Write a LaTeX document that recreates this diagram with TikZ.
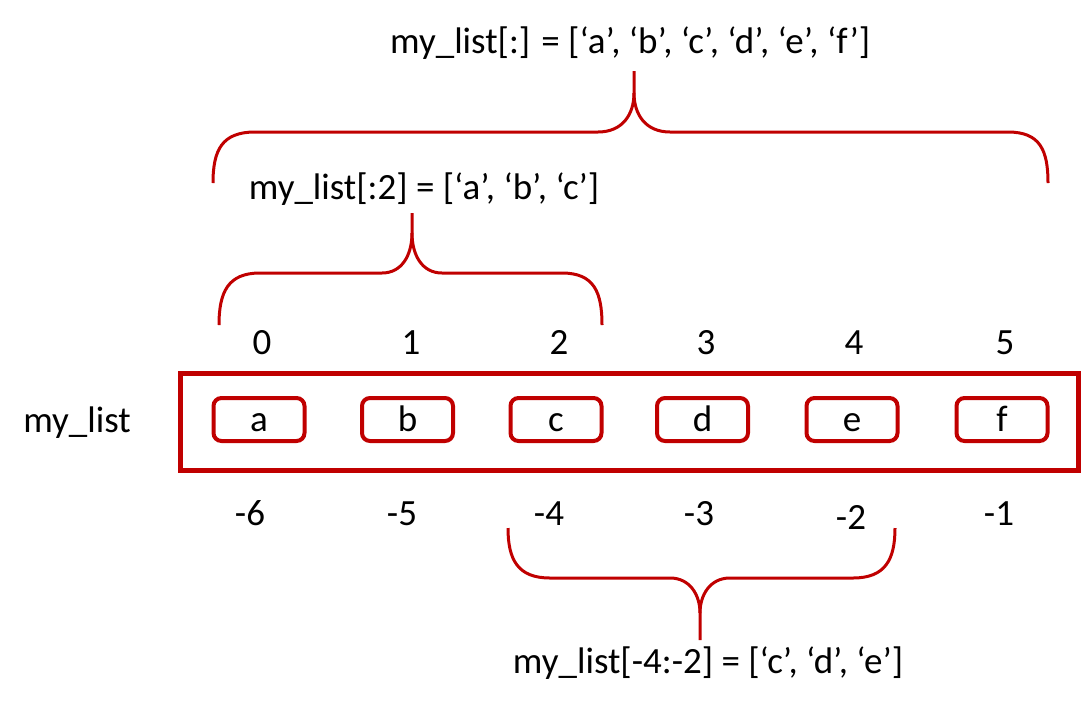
\documentclass[tikz,border=0pt]{standalone}
\usepackage{fontspec}
\setmainfont{Carlito}
\definecolor{brred}{HTML}{C00000}
\begin{document}
\begin{tikzpicture}[x=1pt,y=-1pt,
  txt/.style={inner sep=0pt, anchor=base, font=\fontsize{37}{44}\selectfont, text=black},
  cell/.style={draw=brred, line width=4pt, rounded corners=8pt, minimum width=91pt, minimum height=43pt, inner sep=0pt, text height=23pt, text depth=0pt, font=\fontsize{37}{44}\selectfont},
  listbox/.style={draw=brred, line width=5pt, minimum width=898pt, minimum height=97.5pt, inner sep=0pt},
  brace/.style={draw=brred, line width=3pt}]
\useasboundingbox (0,0) rectangle (1082,705);

% titles
\node[txt] (all) at (630,53) {my\_list[:] = [‘a’, ‘b’, ‘c’, ‘d’, ‘e’, ‘f’]};
\node[txt] (first) at (424,199) {my\_list[:2] = [‘a’, ‘b’, ‘c’]};
\node[txt] (neg) at (708,673) {my\_list[-4:-2] = [‘c’, ‘d’, ‘e’]};
\node[txt] (name) at (77,432) {my\_list};

% list box
\node[listbox] (list) at (629,421.75) {};
\foreach \l/\x in {a/259,b/407.5,c/556,d/702.5,e/852,f/1002}
  \node[cell] (c\l) at (\x,419.5) {\l};

% positive indices
\foreach \i/\x in {0/262,1/411,2/559,3/706,4/854,5/1005}
  \node[txt] (p\i) at (\x,354) {\i};
% negative indices
\foreach \i/\x/\y in {6/250/525,5/402/525,4/549/525,3/699/525,2/851/529,1/999/525}
  \node[txt] (n\i) at (\x,\y) {-\i};

% big brace
\draw[brace] (213,183) .. controls (213,150) and (222,132) .. (255,132) -- (598,132)
  .. controls (622,132) and (634,115) .. (634,93) -- (634,71);
\draw[brace] (634,93) .. controls (634,115) and (646,132) .. (670,132) -- (1008,132)
  .. controls (1040,132) and (1048,150) .. (1048,183);

% small brace
\draw[brace] (219,325) .. controls (219,292) and (228,273) .. (260,273) -- (382,273)
  .. controls (402,273) and (412,255) .. (412,233) -- (412,213);
\draw[brace] (412,233) .. controls (412,255) and (422,273) .. (442,273) -- (562,273)
  .. controls (594,273) and (602,292) .. (602,325);

% bottom brace
\draw[brace] (508,528) .. controls (508,560) and (518,578) .. (550,578) -- (670,578)
  .. controls (690,578) and (700,595) .. (700,613) -- (700,640);
\draw[brace] (700,613) .. controls (700,595) and (710,578) .. (730,578) -- (853,578)
  .. controls (885,578) and (895,560) .. (895,528);
\end{tikzpicture}
\end{document}
